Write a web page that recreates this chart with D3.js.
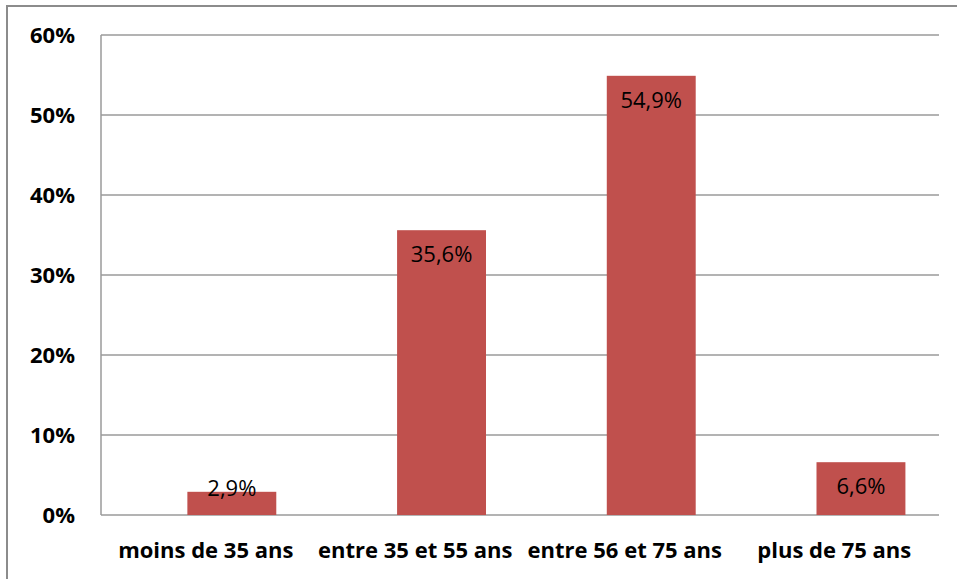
<!DOCTYPE html>
<html>
<head>
<meta charset="utf-8">
<script src="https://cdn.jsdelivr.net/npm/d3@7"></script>
<style>
  body { margin: 0; background: #fff; }
  svg { display: block; }
</style>
</head>
<body>
<div id="chart"></div>
<script>
const categories = ['moins de 35 ans', 'entre 35 et 55 ans', 'entre 56 et 75 ans', 'plus de 75 ans'];
const values = [2.9, 35.6, 54.9, 6.6];
const valueLabels = ['2,9%', '35,6%', '54,9%', '6,6%'];
const yTicks = [0, 10, 20, 30, 40, 50, 60];

const width = 957, height = 579;
const plot = { left: 101, right: 939, top: 35, bottom: 515 };
const font = '"Open Sans", "DejaVu Sans", sans-serif';

const svg = d3.select('#chart')
  .append('svg')
  .attr('width', width)
  .attr('height', height);

// outer chart frame
svg.append('path')
  .attr('d', `M7,${height} V6 H${width}`)
  .attr('fill', 'none')
  .attr('stroke', '#8c8c8c')
  .attr('stroke-width', 2);

const y = d3.scaleLinear().domain([0, 60]).range([plot.bottom, plot.top]);

// labels sit on the category centres, bars are shifted a bit to the right
const xCat = d3.scaleBand().domain(categories).range([plot.left, plot.right]);
const xBar = d3.scaleBand().domain(categories).range([plot.left, plot.right])
  .paddingInner(0.576).paddingOuter(0.286).align(0.72);

// gridlines
svg.append('g')
  .selectAll('line')
  .data(yTicks)
  .enter()
  .append('line')
  .attr('x1', plot.left)
  .attr('x2', plot.right)
  .attr('y1', d => y(d))
  .attr('y2', d => y(d))
  .attr('stroke', '#9a9a9a')
  .attr('stroke-width', 1.5);

// y axis line
svg.append('line')
  .attr('x1', plot.left).attr('x2', plot.left)
  .attr('y1', plot.top).attr('y2', plot.bottom)
  .attr('stroke', '#9a9a9a')
  .attr('stroke-width', 1.5);

// y tick labels
svg.append('g')
  .selectAll('text')
  .data(yTicks)
  .enter()
  .append('text')
  .attr('x', 75)
  .attr('y', d => y(d))
  .attr('dy', '0.35em')
  .attr('text-anchor', 'end')
  .attr('font-family', font)
  .attr('font-weight', 'bold')
  .attr('font-size', 22)
  .text(d => d + '%');

// bars
svg.append('g')
  .selectAll('rect')
  .data(values)
  .enter()
  .append('rect')
  .attr('x', (d, i) => xBar(categories[i]))
  .attr('width', xBar.bandwidth())
  .attr('y', d => y(d))
  .attr('height', d => y(0) - y(d))
  .attr('fill', '#C0504D');

// value labels, inside end
svg.append('g')
  .selectAll('text')
  .data(values)
  .enter()
  .append('text')
  .attr('x', (d, i) => xBar(categories[i]) + xBar.bandwidth() / 2)
  .attr('y', d => Math.min(y(d) + 24, y(0) - 27))
  .attr('dy', '0.35em')
  .attr('text-anchor', 'middle')
  .attr('font-family', font)
  .attr('font-size', 22)
  .attr('fill', '#000')
  .text((d, i) => valueLabels[i]);

// category labels
svg.append('g')
  .selectAll('text')
  .data(categories)
  .enter()
  .append('text')
  .attr('x', d => xCat(d) + xCat.bandwidth() / 2)
  .attr('y', 558)
  .attr('text-anchor', 'middle')
  .attr('font-family', font)
  .attr('font-weight', 'bold')
  .attr('font-size', 22)
  .text(d => d);
</script>
</body>
</html>
